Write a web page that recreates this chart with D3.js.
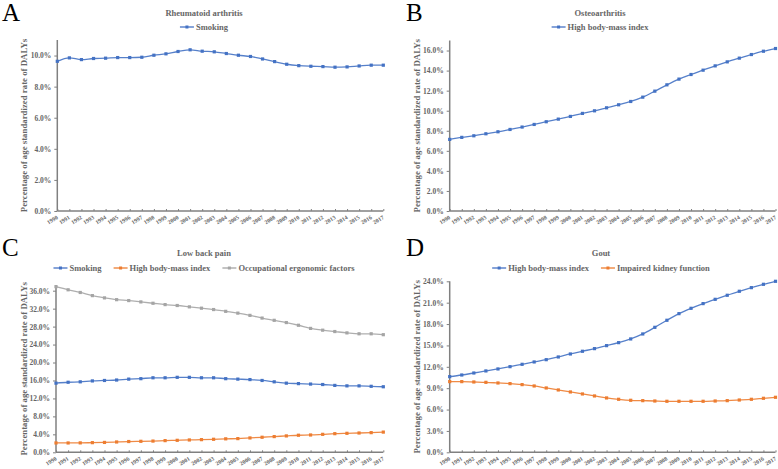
<!DOCTYPE html>
<html>
<head>
<meta charset="utf-8">
<script src="https://cdn.jsdelivr.net/npm/d3@7"></script>
<style>
  body { margin: 0; background: #fff; }
  svg { display: block; font-family: "Liberation Serif", "Times New Roman", serif; }
</style>
</head>
<body>
<svg id="chart" width="778" height="469"></svg>
<script>
// years on the x axis
const years = d3.range(1990, 2018);

// A: Rheumatoid arthritis
const raSmoking = [9.63, 9.85, 9.74, 9.81, 9.83, 9.87, 9.87, 9.89, 10.02, 10.11, 10.26, 10.37, 10.28, 10.24,
  10.13, 10.02, 9.94, 9.78, 9.61, 9.44, 9.35, 9.31, 9.29, 9.25, 9.27, 9.33, 9.38, 9.38];

// B: Osteoarthritis
const oaBmi = [7.14, 7.34, 7.50, 7.70, 7.90, 8.13, 8.37, 8.63, 8.90, 9.16, 9.43, 9.73, 9.99, 10.29,
  10.59, 10.92, 11.35, 11.95, 12.58, 13.15, 13.61, 14.04, 14.47, 14.87, 15.24, 15.60, 15.93, 16.20];

// C: Low back pain
const lbpSmoking = [15.4, 15.6, 15.7, 15.9, 16.0, 16.1, 16.3, 16.4, 16.6, 16.6, 16.7, 16.7, 16.6, 16.6,
  16.4, 16.3, 16.2, 16.0, 15.7, 15.4, 15.3, 15.2, 15.1, 14.9, 14.8, 14.8, 14.7, 14.6];
const lbpBmi = [2.08, 2.08, 2.10, 2.15, 2.20, 2.30, 2.40, 2.45, 2.50, 2.60, 2.67, 2.75, 2.82, 2.90,
  3.00, 3.05, 3.20, 3.35, 3.50, 3.65, 3.80, 3.86, 4.00, 4.15, 4.23, 4.30, 4.38, 4.50];
const lbpErgo = [36.9, 36.2, 35.6, 34.9, 34.4, 34.0, 33.8, 33.5, 33.2, 32.9, 32.7, 32.4, 32.1, 31.8,
  31.4, 31.0, 30.5, 29.9, 29.4, 28.9, 28.3, 27.6, 27.2, 26.9, 26.6, 26.4, 26.4, 26.2];

// D: Gout
const goutBmi = [10.62, 10.85, 11.13, 11.42, 11.70, 12.02, 12.35, 12.68, 13.00, 13.38, 13.80, 14.18, 14.55, 14.97,
  15.39, 15.91, 16.61, 17.54, 18.53, 19.46, 20.21, 20.87, 21.47, 22.04, 22.60, 23.11, 23.58, 24.00];
const goutKidney = [9.92, 9.92, 9.87, 9.82, 9.73, 9.64, 9.50, 9.31, 9.03, 8.75, 8.47, 8.19, 7.91, 7.63,
  7.44, 7.30, 7.25, 7.20, 7.16, 7.16, 7.16, 7.16, 7.20, 7.25, 7.34, 7.44, 7.58, 7.72];

const panelLetters = ["A", "B", "C", "D"];
const panelTitles = ["Rheumatoid arthritis", "Osteoarthritis", "Low back pain", "Gout"];
const yTicksA = [0, 2, 4, 6, 8, 10];
const yTicksB = [0, 2, 4, 6, 8, 10, 12, 14, 16];
const yTicksC = [0, 4, 8, 12, 16, 20, 24, 28, 32, 36];
const yTicksD = [0, 3, 6, 9, 12, 15, 18, 21, 24];

const BLUE = "#4472c4", ORANGE = "#ed7d31", GRAY = "#a5a5a5";
const TEXT = "#666666", AXIS = "#808080";
const yTitle = "Percentage of age standardized rate of DALYs";

const svg = d3.select("#chart");

function drawPanel(p) {
  const g = svg.append("g");
  const x = d3.scalePoint().domain(years).range([p.left, p.right]);
  const y = d3.scaleLinear().domain([0, p.ymax]).range([p.bottom, p.top]);

  // panel letter
  g.append("text").attr("x", p.letterX).attr("y", p.letterY)
    .attr("font-size", 25).attr("fill", "#000").text(p.letter);

  // title
  g.append("text").attr("x", p.titleX).attr("y", p.titleY)
    .attr("text-anchor", "middle").attr("font-size", 8.5).attr("font-weight", "bold")
    .attr("fill", TEXT).text(p.title);

  // legend, laid out left to right and centred
  const legend = g.append("g");
  let cx = 0;
  p.series.forEach(s => {
    const item = legend.append("g").attr("transform", `translate(${cx},0)`);
    item.append("line").attr("x1", 0).attr("x2", 14).attr("y1", 0).attr("y2", 0)
      .attr("stroke", s.color).attr("stroke-width", 1.3);
    item.append("rect").attr("x", 5.5).attr("y", -1.5).attr("width", 3).attr("height", 3).attr("fill", s.color);
    const t = item.append("text").attr("x", 16).attr("y", 3).attr("font-size", 8.5)
      .attr("font-weight", "bold").attr("fill", TEXT).text(s.name);
    cx += 16 + t.node().getComputedTextLength() + 12;
  });
  const lw = cx - 12;
  legend.attr("transform", `translate(${p.titleX - lw / 2},${p.legendY})`);

  // y axis
  const yAxis = g.append("g").attr("transform", `translate(${p.left},0)`)
    .call(d3.axisLeft(y).tickValues(p.yTicks).tickSize(3).tickPadding(3)
      .tickFormat(d => d.toFixed(1) + "%"));
  yAxis.select(".domain").attr("d", `M0,${p.bottom}V${p.top}`);
  yAxis.selectAll("path, line").attr("stroke", AXIS).attr("stroke-width", 1);
  yAxis.select(".domain").attr("stroke-width", 1.5);
  yAxis.selectAll("text").attr("font-size", 7.5).attr("font-weight", "bold").attr("fill", TEXT)
    .attr("font-family", "Liberation Serif, serif");

  // x axis
  const xAxis = g.append("g").attr("transform", `translate(0,${p.bottom})`)
    .call(d3.axisBottom(x).tickSize(-2).tickPadding(4));
  xAxis.select(".domain").attr("d", `M${p.left},0H${p.right}`);
  xAxis.selectAll("path, line").attr("stroke", AXIS).attr("stroke-width", 1);
  xAxis.select(".domain").attr("stroke-width", 1.5);
  xAxis.selectAll("text").attr("font-size", 5.8).attr("font-weight", "bold").attr("fill", TEXT)
    .attr("font-family", "Liberation Serif, serif")
    .attr("text-anchor", "end").attr("dy", 0)
    .attr("transform", "translate(-1.5,4) rotate(-32)");

  // y title
  g.append("text")
    .attr("transform", `translate(${p.yTitleX},${(p.top + p.bottom) / 2}) rotate(-90)`)
    .attr("text-anchor", "middle").attr("font-size", 8.8).attr("font-weight", "bold")
    .attr("fill", TEXT).text(yTitle);

  // lines and markers
  const line = d3.line().x((d, i) => x(years[i])).y(d => y(d)).curve(d3.curveMonotoneX);
  p.series.forEach(s => {
    g.append("path").datum(s.values).attr("d", line)
      .attr("fill", "none").attr("stroke", s.color).attr("stroke-width", 1.3).attr("stroke-opacity", 0.9);
    g.selectAll(null).data(s.values).enter().append("rect")
      .attr("x", (d, i) => x(years[i]) - 1.6).attr("y", d => y(d) - 1.6)
      .attr("width", 3.2).attr("height", 3.2).attr("fill", s.color);
  });
}

drawPanel({
  letter: panelLetters[0], title: panelTitles[0], letterX: 2, letterY: 21,
  titleX: 204, titleY: 16, legendY: 27, yTitleX: 27,
  left: 57.3, right: 383.3, top: 40, bottom: 211, ymax: 11, yTicks: yTicksA,
  series: [{ name: "Smoking", color: BLUE, values: raSmoking }]
});
drawPanel({
  letter: panelLetters[1], title: panelTitles[1], letterX: 406, letterY: 21,
  titleX: 600, titleY: 16, legendY: 27, yTitleX: 420,
  left: 449.7, right: 775.5, top: 40.5, bottom: 211, ymax: 17, yTicks: yTicksB,
  series: [{ name: "High body-mass index", color: BLUE, values: oaBmi }]
});
drawPanel({
  letter: panelLetters[2], title: panelTitles[2], letterX: 2, letterY: 256,
  titleX: 204, titleY: 256, legendY: 268, yTitleX: 27,
  left: 56, right: 383.3, top: 285.3, bottom: 452.3, ymax: 37.2, yTicks: yTicksC,
  series: [
    { name: "Smoking", color: BLUE, values: lbpSmoking },
    { name: "High body-mass index", color: ORANGE, values: lbpBmi },
    { name: "Occupational ergonomic factors", color: GRAY, values: lbpErgo }
  ]
});
drawPanel({
  letter: panelLetters[3], title: panelTitles[3], letterX: 406, letterY: 256,
  titleX: 601, titleY: 256, legendY: 268, yTitleX: 420,
  left: 449.7, right: 775.5, top: 281.3, bottom: 452.3, ymax: 24, yTicks: yTicksD,
  series: [
    { name: "High body-mass index", color: BLUE, values: goutBmi },
    { name: "Impaired kidney function", color: ORANGE, values: goutKidney }
  ]
});
</script>
</body>
</html>
